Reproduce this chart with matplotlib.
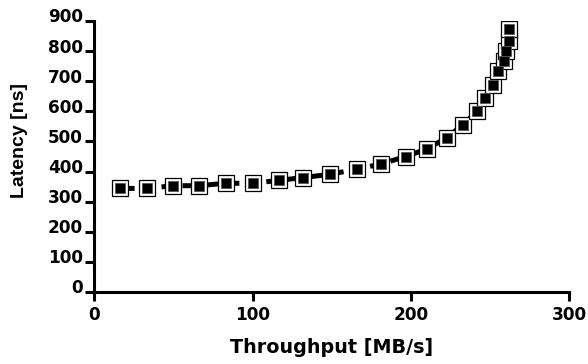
import matplotlib
matplotlib.use("Agg")
import matplotlib.pyplot as plt
import matplotlib.transforms as mtransforms

throughput = [16, 33, 50, 66, 83, 100, 117, 132, 149, 166, 181, 197, 210, 223,
              233, 242, 247, 252, 255, 259, 260, 262, 262]
latency = [344, 344, 353, 353, 361, 361, 371, 380, 391, 408, 425, 450, 475, 513,
           556, 600, 645, 689, 733, 767, 802, 835, 874]
xticks = [0, 100, 200, 300]
yticks = [0, 100, 200, 300, 400, 500, 600, 700, 800, 900]

plt.rcParams['font.family'] = ['DejaVu Sans']
plt.rcParams['font.weight'] = 'bold'

dpi = 100
fig = plt.figure(figsize=(5.88, 3.64), dpi=dpi)
ax = fig.add_axes([94.3 / 588, 1 - 292 / 364, (569 - 94.3) / 588, (292 - 21) / 364])

ax.plot(throughput, latency, color='black', linewidth=3.6, linestyle=(0, (3, 1.2)),
        zorder=2)
ax.plot(throughput, latency, linestyle='none', marker='s', markersize=11.5,
        markerfacecolor='white', markeredgecolor='black', markeredgewidth=0.9, zorder=3)
ax.plot(throughput, latency, linestyle='none', marker='s', markersize=7.8,
        markerfacecolor='black', markeredgecolor='#555555', markeredgewidth=0.6, zorder=4)

ax.set_xlim(0, 300)
ax.set_ylim(0, 900)
ax.set_xticks(xticks)
ax.set_yticks(yticks)
ax.set_xticklabels([str(v) for v in xticks])
ax.set_yticklabels([str(v) for v in yticks])

for side in ['top', 'right']:
    ax.spines[side].set_visible(False)
for side in ['left', 'bottom']:
    ax.spines[side].set_linewidth(2.2)

ax.tick_params(axis='both', direction='out', length=6.3, width=2.2, labelsize=12.2)
ax.tick_params(axis='x', pad=4)
ax.tick_params(axis='y', pad=2)

offset = mtransforms.ScaledTranslation(0, 4 / 72, fig.dpi_scale_trans)
for lab in ax.get_yticklabels():
    lab.set_transform(lab.get_transform() + offset)

ax.set_xlabel('Throughput [MB/s]', fontsize=13.8, fontweight='bold', labelpad=10)
ax.set_ylabel('Latency [ns]', fontsize=14, fontweight='bold',
              family=['Liberation Sans', 'DejaVu Sans'], va='center')
ax.yaxis.set_label_coords(20 / 588, 1 - 140 / 364, transform=fig.transFigure)

fig.savefig('out.png', dpi=dpi)
